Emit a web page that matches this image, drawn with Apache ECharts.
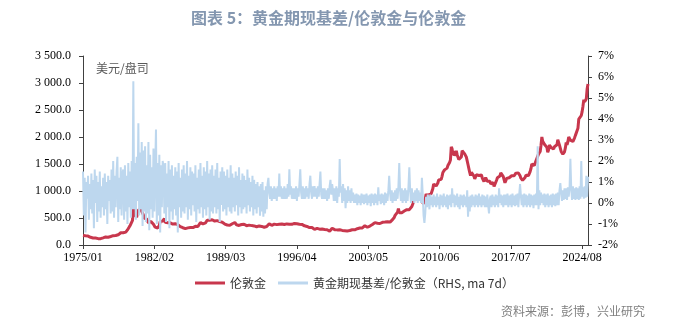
<!DOCTYPE html>
<html><head><meta charset="utf-8">
<script src="https://cdn.jsdelivr.net/npm/echarts@6/dist/echarts.min.js"></script>
<style>html,body{margin:0;padding:0;background:#fff}#c{width:679px;height:323px}</style>
</head><body><div id="c"></div>
<script>
// ---- data ----
const startYear = 1975, monthCount = 603; // 1975/01 .. 2025/03
const titleText = '图表 5：黄金期现基差/伦敦金与伦敦金';
const unitText = '美元/盘司';
const sourceText = '资料来源：彭博，兴业研究';
const seriesNames = ['伦敦金', '黄金期现基差/伦敦金（RHS, ma 7d）'];
const leftTicks = [0, 3500, 500];
const rightTicks = [-2, 7, 1];

// 伦敦金 (USD/oz), monthly
const goldPrice = [
176,180,178,170,167,164,165,163,144,143,142,139,
131,131,133,128,126,126,118,110,115,117,130,134,
132,136,148,149,147,141,144,145,150,158,162,161,
173,178,184,175,177,183,189,206,212,227,206,208,
227,246,242,239,257,279,294,301,355,392,392,456,
675,665,554,517,514,600,644,627,673,661,623,594,
557,500,499,495,480,461,409,410,444,437,413,410,
384,374,330,350,334,315,339,364,435,422,415,445,
481,491,420,432,438,413,422,416,411,393,382,388,
370,386,394,381,377,378,347,348,341,340,341,320,
303,298,304,325,317,317,317,330,324,325,325,322,
345,339,346,340,342,343,348,376,418,423,395,390,
408,401,409,438,460,450,450,460,460,465,467,487,
477,443,444,452,451,451,437,432,413,406,420,419,
404,388,390,384,371,367,375,365,362,367,394,409,
410,417,393,374,369,352,362,395,389,380,381,378,
384,364,363,358,357,367,368,356,349,359,360,361,
354,354,344,338,337,341,353,340,345,344,335,334,
329,330,330,342,367,372,392,378,355,365,374,383,
387,382,384,377,381,386,385,380,391,389,384,380,
379,377,382,391,385,387,386,383,383,383,386,387,
400,405,396,393,392,385,383,387,383,381,378,369,
355,346,352,344,344,341,324,324,323,325,306,289,
289,297,296,308,299,292,293,284,289,296,294,291,
287,288,286,282,277,261,256,257,264,311,293,283,
284,300,286,280,275,286,282,275,273,270,266,272,
266,262,263,261,272,270,268,273,283,283,276,276,
282,296,294,302,314,322,314,310,320,317,320,333,
357,359,340,329,355,356,351,360,379,379,390,407,
414,405,406,404,384,392,398,400,405,420,439,442,
424,423,434,429,422,430,424,437,456,470,476,510,
549,555,557,610,676,596,633,632,598,585,627,629,
631,664,655,679,667,655,665,665,712,754,806,803,
889,922,968,909,888,889,939,839,829,806,760,816,
858,943,924,890,928,946,934,949,996,1043,1127,1135,
1118,1095,1113,1148,1205,1232,1193,1215,1271,1342,1370,1391,
1356,1372,1424,1473,1510,1529,1572,1820,1780,1665,1739,1652,
1656,1742,1673,1650,1585,1596,1594,1630,1744,1747,1722,1688,
1671,1627,1593,1487,1414,1343,1286,1347,1349,1316,1275,1225,
1244,1300,1336,1299,1288,1279,1311,1296,1239,1222,1176,1201,
1250,1227,1179,1198,1199,1181,1131,1117,1125,1156,1086,1068,
1097,1200,1245,1242,1260,1276,1337,1341,1326,1267,1238,1152,
1192,1234,1231,1266,1246,1260,1237,1283,1314,1280,1283,1265,
1331,1331,1325,1335,1303,1282,1238,1201,1198,1215,1221,1250,
1291,1320,1301,1286,1284,1359,1413,1500,1510,1495,1471,1480,
1560,1597,1591,1683,1715,1732,1847,2000,1921,1900,1866,1858,
1867,1808,1718,1760,1850,1834,1807,1785,1775,1777,1820,1790,
1817,1856,1948,1937,1848,1837,1733,1764,1681,1665,1726,1798,
1898,1855,1912,2000,1992,1942,1951,1918,1916,1916,1985,2030,
2033,2024,2160,2331,2352,2326,2398,2470,2571,2690,2651,2648,
2709,2895,2983
];

// 黄金期现基差/伦敦金 (%), RHS
const basisPct = [
1.5,-0.6,1.2,-1.4,1.0,0.2,1.3,-0.8,0.9,-0.3,1.4,-0.5,
1.1,-1.2,1.6,0.0,1.3,-0.9,1.0,-0.4,1.5,-0.7,0.8,-0.2,
1.2,-0.6,1.4,-0.3,1.0,-1.0,1.3,0.1,1.1,-0.5,1.6,-0.4,
2.0,-0.7,1.3,-0.2,1.5,2.2,-0.9,1.2,-0.3,1.7,-0.6,1.4,
1.6,-0.8,1.8,-0.4,1.3,-1.0,1.9,-0.2,1.5,-0.7,2.0,-0.3,
5.8,-0.3,1.9,-0.8,2.2,0.1,3.8,-0.6,2.4,-0.3,2.9,-1.1,
2.5,-0.4,2.7,-0.9,1.8,-0.5,2.9,-1.3,2.3,-0.3,1.7,-0.7,
2.6,-0.4,1.6,3.5,-1.0,1.9,-0.6,2.3,-1.4,1.8,-0.2,2.0,
1.7,-0.5,1.9,-0.9,1.4,-0.2,2.0,-1.2,1.6,-0.4,1.8,-0.8,
1.3,-0.3,1.7,-0.6,1.5,-1.4,1.9,-0.2,1.2,-0.7,1.6,-0.4,
1.8,-0.5,1.4,-0.2,2.0,-0.8,1.3,-0.3,1.7,-0.6,1.5,-0.1,
1.4,-0.4,1.8,-0.9,1.2,-0.3,1.6,-0.5,1.9,-0.2,1.3,-0.7,
1.7,-0.3,1.5,-0.6,2.0,-0.2,1.4,-0.8,1.6,-0.4,1.8,-0.5,
1.3,-0.2,1.6,-0.5,1.9,-0.3,1.2,-0.9,1.5,-0.1,1.7,-0.4,
1.5,-0.3,1.3,-0.6,1.6,-0.2,1.2,-0.4,1.8,-0.5,1.4,-0.2,
1.2,-0.4,1.5,-0.1,1.3,-0.6,1.7,-0.2,1.1,-0.5,1.4,-0.3,
1.3,-0.2,1.1,-0.5,1.6,-0.1,1.2,-0.4,1.0,-0.2,1.3,-0.6,
1.1,-0.3,0.9,-0.5,1.0,-0.2,0.8,-0.6,0.9,-0.4,1.0,-0.65,
0.6,-0.5,0.8,-0.3,0.9,1.2,0.5,0.2,0.8,0.1,0.7,0.2,
0.8,0.2,0.7,0.1,0.8,0.3,1.4,0.3,0.8,0.2,0.7,0.2,
0.8,0.2,0.7,0.2,0.9,0.3,1.6,0.4,0.8,0.2,0.7,0.2,
0.7,0.2,0.8,0.1,0.7,0.3,0.9,1.6,0.5,0.2,0.8,0.2,
0.7,0.2,0.8,0.3,0.7,0.2,0.9,1.3,0.5,0.2,0.8,0.3,
0.8,0.3,0.7,0.2,0.8,0.3,0.9,1.5,0.4,0.2,0.7,0.2,
0.7,0.2,0.6,0.1,0.7,0.2,0.8,1.1,0.4,0.9,0.6,0.1,
0.7,0.1,0.8,0.0,0.7,0.3,2.1,0.5,0.8,0.0,0.9,0.1,
0.7,-0.25,0.6,0.0,0.8,0.1,0.6,0.0,0.7,0.1,0.5,0.0,
0.4,0.0,0.45,-0.1,0.4,0.0,0.35,-0.1,0.45,0.0,0.4,-0.05,
0.4,0.0,0.45,-0.1,0.35,0.0,0.4,-0.15,0.45,0.0,0.4,-0.1,
0.45,0.0,0.4,-0.1,0.75,0.1,0.4,-0.05,0.45,0.0,0.4,-0.1,
0.5,0.0,0.45,0.1,0.6,1.3,0.5,0.1,0.6,0.0,0.5,0.1,
0.6,0.1,0.7,0.2,0.8,1.9,0.6,0.1,0.7,0.0,0.6,0.1,
0.7,0.0,0.6,0.1,0.8,1.7,0.6,0.0,0.7,0.1,0.5,0.0,
0.6,0.1,0.7,0.0,0.6,0.1,0.5,0.0,1.2,0.4,-0.6,-0.95,
-0.5,0.3,-0.2,0.4,0.1,-0.3,0.4,-0.1,0.3,-0.2,0.4,-0.1,
0.3,-0.2,0.45,-0.1,0.3,-0.3,0.4,-0.1,0.35,-0.2,0.45,-0.1,
0.3,-0.2,0.4,-0.3,0.35,-0.1,0.4,-0.2,0.7,0.0,0.4,-0.2,
0.35,-0.1,0.45,-0.2,0.3,-0.3,0.4,-0.1,0.35,-0.2,0.4,-0.1,
0.3,-0.2,0.6,-0.65,0.3,-0.4,0.35,-0.2,0.4,-0.1,0.3,-0.2,
0.4,-0.1,0.35,-0.2,0.45,-0.1,0.3,-0.2,0.4,-0.1,0.35,-0.2,
0.3,-0.2,0.4,-0.1,-0.5,0.2,0.35,-0.2,0.4,-0.1,0.3,-0.2,
0.4,-0.1,0.35,-0.2,0.7,0.0,0.4,-0.1,0.35,-0.2,0.4,-0.1,
0.4,-0.1,0.45,-0.2,0.35,-0.1,0.4,-0.2,0.45,-0.1,0.35,-0.15,
0.4,-0.1,0.45,-0.2,0.4,0.9,0.35,-0.1,0.4,-0.2,0.45,-0.1,
0.4,-0.2,0.35,-0.1,0.45,-0.2,0.4,-0.1,0.35,-0.25,0.4,-0.1,
0.45,-0.1,2.7,-0.3,0.6,-0.1,0.5,0.0,0.4,-0.1,0.45,-0.2,
0.4,-0.1,0.45,-0.2,0.35,-0.1,0.4,-0.2,0.45,-0.1,0.4,-0.15,
0.45,-0.1,0.5,-0.1,0.6,0.95,0.5,0.1,0.6,0.15,0.7,0.2,
0.7,0.15,0.75,0.3,0.7,2.1,0.7,0.15,0.8,0.2,0.7,0.15,
0.75,0.2,0.7,0.15,0.8,0.2,2.0,0.3,0.75,0.2,0.8,0.25,
1.3,0.3,1.25
];

// ---- categories (tick labels) ----
const months = [];
for (let i = 0; i < monthCount; i++) {
  const y = startYear + Math.floor(i / 12), m = (i % 12) + 1;
  months.push(y + '/' + (m < 10 ? '0' + m : m));
}
const labelEvery = 85;

const chart = echarts.init(document.getElementById('c'));
const serif = 'Liberation Serif';
const cjk = 'Noto Sans CJK SC';
const axisLineColor = '#404040';

chart.setOption({
  animation: false,
  backgroundColor: '#fff',
  title: {
    text: titleText, left: 186, top: 5,
    textStyle: { fontFamily: cjk, fontSize: 16, fontWeight: 'bold', color: '#8497B0' }
  },
  legend: {
    data: seriesNames, left: 190, top: 272, icon: 'rect',
    itemWidth: 30, itemHeight: 3, itemGap: 12,
    textStyle: { fontFamily: cjk, fontSize: 12, color: '#333' }
  },
  grid: { left: 83, right: 91, top: 56, bottom: 78, containLabel: false },
  xAxis: {
    type: 'category', data: months, boundaryGap: false,
    axisLine: { lineStyle: { color: axisLineColor, width: 1 } },
    axisTick: { interval: labelEvery - 1, length: 4, lineStyle: { color: axisLineColor } },
    axisLabel: { interval: labelEvery - 1, fontFamily: serif, fontSize: 12, color: '#000', margin: 7 },
    splitLine: { show: false }
  },
  yAxis: [{
    type: 'value', min: leftTicks[0], max: leftTicks[1], interval: leftTicks[2],
    axisLine: { show: true, lineStyle: { color: axisLineColor } },
    axisTick: { show: true, length: 4, lineStyle: { color: axisLineColor } },
    splitLine: { show: false },
    axisLabel: {
      fontFamily: serif, fontSize: 12, color: '#000', margin: 12,
      formatter: v => v >= 1000 ? Math.floor(v / 1000) + ' ' + (v % 1000).toFixed(1).padStart(5, '0') : v.toFixed(1)
    }
  }, {
    type: 'value', min: rightTicks[0], max: rightTicks[1], interval: rightTicks[2], position: 'right',
    axisLine: { show: true, lineStyle: { color: axisLineColor } },
    axisTick: { show: true, length: 4, lineStyle: { color: axisLineColor } },
    splitLine: { show: false },
    axisLabel: { fontFamily: serif, fontSize: 12, color: '#000', margin: 10, formatter: v => v + '%' }
  }],
  series: [{
    name: seriesNames[0], type: 'line', data: goldPrice, yAxisIndex: 0,
    showSymbol: false, symbol: 'none', lineStyle: { color: '#C8374D', width: 3 }, itemStyle: { color: '#C8374D' }
  }, {
    name: seriesNames[1], type: 'line', data: basisPct, yAxisIndex: 1,
    showSymbol: false, symbol: 'none', lineStyle: { color: '#BDD7EE', width: 2 }, itemStyle: { color: '#BDD7EE' }
  }],
  graphic: [{
    type: 'text', left: 96, top: 62,
    style: { text: unitText, fontFamily: cjk, fontSize: 12, fill: '#595959' }
  }, {
    type: 'text', right: 34, top: 305,
    style: { text: sourceText, fontFamily: cjk, fontSize: 12, fill: '#808080' }
  }]
});
</script></body></html>
